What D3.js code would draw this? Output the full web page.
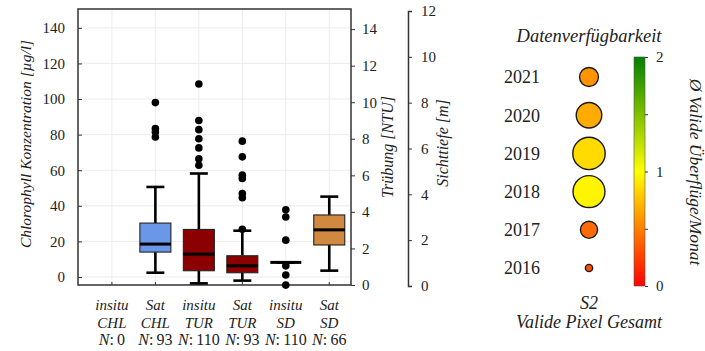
<!DOCTYPE html>
<html lang="de">
<head>
<meta charset="UTF-8">
<title>Datenverfügbarkeit Boxplot</title>
<script src="https://d3js.org/d3.v7.min.js"></script>
<style>
    body { margin: 0; background: #fff; }
    svg text { font-family: "Liberation Serif", "Times New Roman", Times, serif; }
    .tick text { font-size: 15px; fill: #222; }
    .ital { font-style: italic; }
</style>
</head>
<body>
<div id="chart"></div>
<script>
// ---- data (box plot) ----
const categories = ["insitu CHL", "Sat CHL", "insitu TUR", "Sat TUR", "insitu SD", "Sat SD"];
const sampleN = [0, 93, 110, 93, 110, 66];
const unitAxis = ["chl", "chl", "tur", "tur", "sd", "sd"];
const whiskerLow  = [null, 2.4, 0.09, 0.24, 1.03, 0.67];
const quart1      = [null, 14.0, 0.78, 0.67, 1.03, 1.79];
const medians     = [null, 18.5, 1.69, 1.05, 1.03, 2.45];
const quart3      = [null, 30.3, 3.04, 1.60, 1.03, 3.10];
const whiskerHigh = [null, 50.6, 6.10, 2.97, 1.03, 3.90];
const outliers = [
    [],
    [98, 83.4, 81.5, 78.7],
    [11.0, 9.0, 8.5, 8.0, 7.5, 6.9, 6.55],
    [7.87, 7.01, 6.01, 5.83, 5.01, 4.77, 3.05],
    [3.33, 3.01, 2.0, 0.88, 0.48, 0.04],
    []
];
const boxColors = [null, "#6a97e8", "#8b0000", "#8b0000", "#8b0000", "#d0893f"];

const chlTicks = [0, 20, 40, 60, 80, 100, 120, 140];
const turTicks = [0, 2, 4, 6, 8, 10, 12, 14];
const sdTicks = [0, 2, 4, 6, 8, 10, 12];

// ---- data (availability bubbles) ----
const years = [2021, 2020, 2019, 2018, 2017, 2016];
const overpassMean = [0.58, 0.67, 0.86, 0.96, 0.42, 0.31];
const pixelTotal = [34, 62, 100, 97, 28, 5];
const cbTicks = [0, 0.5, 1, 1.5, 2];

const width = 705, height = 351;
const svg = d3.select("#chart").append("svg")
    .attr("width", width).attr("height", height);

// frame of box plot
const frame = { left: 78, right: 351, top: 9, bottom: 285 };

const x = d3.scaleLinear().domain([0.22, 6.5]).range([frame.left, frame.right]);
const yChl = d3.scaleLinear().domain([-4.5, 150.6]).range([frame.bottom, frame.top]);
const yTur = d3.scaleLinear().domain([0, 15.1]).range([frame.bottom, frame.top]);
const ySd = d3.scaleLinear().domain([0, 12]).range([286, 11]);
const yScales = { chl: yChl, tur: yTur, sd: ySd };

// grid
const grid = svg.append("g").attr("stroke", "#ececec").attr("stroke-width", 1);
grid.selectAll(".hg").data(chlTicks).join("line")
    .attr("x1", frame.left).attr("x2", frame.right)
    .attr("y1", d => yChl(d)).attr("y2", d => yChl(d));
grid.selectAll(".vg").data(categories).join("line")
    .attr("x1", (d, i) => x(i + 1)).attr("x2", (d, i) => x(i + 1))
    .attr("y1", frame.top).attr("y2", frame.bottom);

// left axis (inward ticks)
const axL = svg.append("g").attr("transform", `translate(${frame.left},0)`)
    .call(d3.axisLeft(yChl).tickValues(chlTicks).tickSizeInner(-4).tickSizeOuter(0).tickPadding(13));
axL.select(".domain").remove();
axL.selectAll(".tick line").attr("stroke", "#333");

// right axis Trübung
const axR = svg.append("g").attr("transform", `translate(${frame.right},0)`)
    .call(d3.axisRight(yTur).tickValues(turTicks).tickSizeInner(4).tickSizeOuter(0).tickPadding(7));
axR.select(".domain").remove();
axR.selectAll(".tick line").attr("stroke", "#333");

// bottom ticks
svg.append("g").selectAll("line").data(categories).join("line")
    .attr("x1", (d, i) => x(i + 1)).attr("x2", (d, i) => x(i + 1))
    .attr("y1", frame.bottom).attr("y2", frame.bottom - 3)
    .attr("stroke", "#333");

// frame
svg.append("rect")
    .attr("x", frame.left).attr("y", frame.top)
    .attr("width", frame.right - frame.left).attr("height", frame.bottom - frame.top)
    .attr("fill", "none").attr("stroke", "#333").attr("stroke-width", 1.5);

// Sichttiefe axis
const axS = svg.append("g").attr("transform", "translate(408,0)")
    .call(d3.axisRight(ySd).tickValues(sdTicks).tickSizeInner(4).tickSizeOuter(4).tickPadding(9));
axS.select(".domain").attr("stroke", "#333").attr("stroke-width", 1.5);
axS.selectAll(".tick line").attr("stroke", "#333");

// axis titles
svg.append("text").attr("class", "ital")
    .attr("transform", "translate(31,144) rotate(-90)")
    .attr("text-anchor", "middle").attr("font-size", 15.5).attr("fill", "#222")
    .text("Chlorophyll Konzentration [µg/l]");
svg.append("text").attr("class", "ital")
    .attr("transform", "translate(393,147) rotate(-90)")
    .attr("text-anchor", "middle").attr("font-size", 16).attr("fill", "#222")
    .text("Trübung [NTU]");
svg.append("text").attr("class", "ital")
    .attr("transform", "translate(448,143) rotate(-90)")
    .attr("text-anchor", "middle").attr("font-size", 16).attr("fill", "#222")
    .text("Sichttiefe [m]");

// boxes
const boxW = 31, capW = 18;
const boxes = svg.append("g");
categories.forEach((c, i) => {
    if (medians[i] === null) return;
    const y = yScales[unitAxis[i]];
    const cx = x(i + 1);
    const g = boxes.append("g");
    // whiskers
    g.append("line").attr("x1", cx).attr("x2", cx)
        .attr("y1", y(whiskerHigh[i])).attr("y2", y(quart3[i]))
        .attr("stroke", "#000").attr("stroke-width", 2.6);
    g.append("line").attr("x1", cx).attr("x2", cx)
        .attr("y1", y(quart1[i])).attr("y2", y(whiskerLow[i]))
        .attr("stroke", "#000").attr("stroke-width", 2.6);
    [whiskerHigh[i], whiskerLow[i]].forEach(v => {
        g.append("line").attr("x1", cx - capW / 2).attr("x2", cx + capW / 2)
            .attr("y1", y(v)).attr("y2", y(v))
            .attr("stroke", "#000").attr("stroke-width", 2.6);
    });
    g.append("rect")
        .attr("x", cx - boxW / 2).attr("width", boxW)
        .attr("y", y(quart3[i])).attr("height", y(quart1[i]) - y(quart3[i]))
        .attr("fill", boxColors[i]).attr("stroke", "#222").attr("stroke-width", 1.1);
    g.append("line").attr("x1", cx - boxW / 2).attr("x2", cx + boxW / 2)
        .attr("y1", y(medians[i])).attr("y2", y(medians[i]))
        .attr("stroke", "#000").attr("stroke-width", 3);
});
categories.forEach((c, i) => {
    const y = yScales[unitAxis[i]];
    boxes.append("g").selectAll("circle").data(outliers[i]).join("circle")
        .attr("cx", x(i + 1)).attr("cy", d => y(d)).attr("r", 3.8)
        .attr("fill", "#000");
});

// category labels
const catLab = svg.append("g").attr("fill", "#222").attr("text-anchor", "middle");
categories.forEach((c, i) => {
    const parts = c.split(" ");
    const cx = x(i + 1);
    catLab.append("text").attr("class", "ital").attr("font-size", 15).attr("x", cx).attr("y", 310).text(parts[0]);
    catLab.append("text").attr("class", "ital").attr("font-size", 15).attr("x", cx).attr("y", 328).text(parts[1]);
    const t = catLab.append("text").attr("font-size", 16).attr("x", cx).attr("y", 345);
    t.append("tspan").attr("class", "ital").text("N");
    t.append("tspan").text(":\u2009" + sampleN[i]);
});

// ---- availability panel ----
const bx = 589;
const yYear = d3.scalePoint().domain(years).range([77, 268]);
const rScale = d3.scaleSqrt().domain([0, d3.max(pixelTotal)]).range([0, 16.2]);
const colorScale = d3.scaleLinear().domain([0, 1, 2]).range(["#ff0000", "#ffff00", "#008000"]);

svg.append("text").attr("class", "ital").attr("x", bx).attr("y", 42)
    .attr("text-anchor", "middle").attr("font-size", 18.5).attr("fill", "#222")
    .text("Datenverfügbarkeit");

svg.append("g").selectAll("text").data(years).join("text")
    .attr("x", 522).attr("y", d => yYear(d)).attr("dy", "0.35em")
    .attr("text-anchor", "middle").attr("font-size", 18).attr("fill", "#222")
    .text(d => d);

svg.append("g").selectAll("circle").data(years).join("circle")
    .attr("cx", bx).attr("cy", d => yYear(d))
    .attr("r", (d, i) => rScale(pixelTotal[i]))
    .attr("fill", (d, i) => colorScale(overpassMean[i]))
    .attr("stroke", "#1a1a1a").attr("stroke-width", 1.4);

svg.append("text").attr("class", "ital").attr("x", bx).attr("y", 309)
    .attr("text-anchor", "middle").attr("font-size", 18).attr("fill", "#222").text("S2");
svg.append("text").attr("class", "ital").attr("x", bx).attr("y", 328)
    .attr("text-anchor", "middle").attr("font-size", 18).attr("fill", "#222").text("Valide Pixel Gesamt");

// colorbar
const yCb = d3.scaleLinear().domain([0, 2]).range([286, 57]);
const defs = svg.append("defs");
const grad = defs.append("linearGradient").attr("id", "cbgrad")
    .attr("x1", 0).attr("x2", 0).attr("y1", 1).attr("y2", 0);
d3.range(0, 2.01, 0.25).forEach(v => {
    grad.append("stop").attr("offset", v / 2).attr("stop-color", colorScale(v));
});
svg.append("rect").attr("x", 634).attr("y", yCb(2)).attr("width", 11)
    .attr("height", yCb(0) - yCb(2)).attr("fill", "url(#cbgrad)")
    .attr("stroke", "#555").attr("stroke-width", 0.6);
const axCb = svg.append("g").attr("transform", "translate(645,0)")
    .call(d3.axisRight(yCb).tickValues(cbTicks).tickSizeInner(3).tickSizeOuter(0).tickPadding(8)
        .tickFormat(d => Number.isInteger(d) ? d : ""));
axCb.select(".domain").remove();
axCb.selectAll(".tick line").attr("stroke", "#333");

svg.append("text").attr("class", "ital")
    .attr("transform", "translate(690,172) rotate(90)")
    .attr("text-anchor", "middle").attr("font-size", 17.5).attr("fill", "#222")
    .text("Ø Valide Überflüge/Monat");
</script>
</body>
</html>
